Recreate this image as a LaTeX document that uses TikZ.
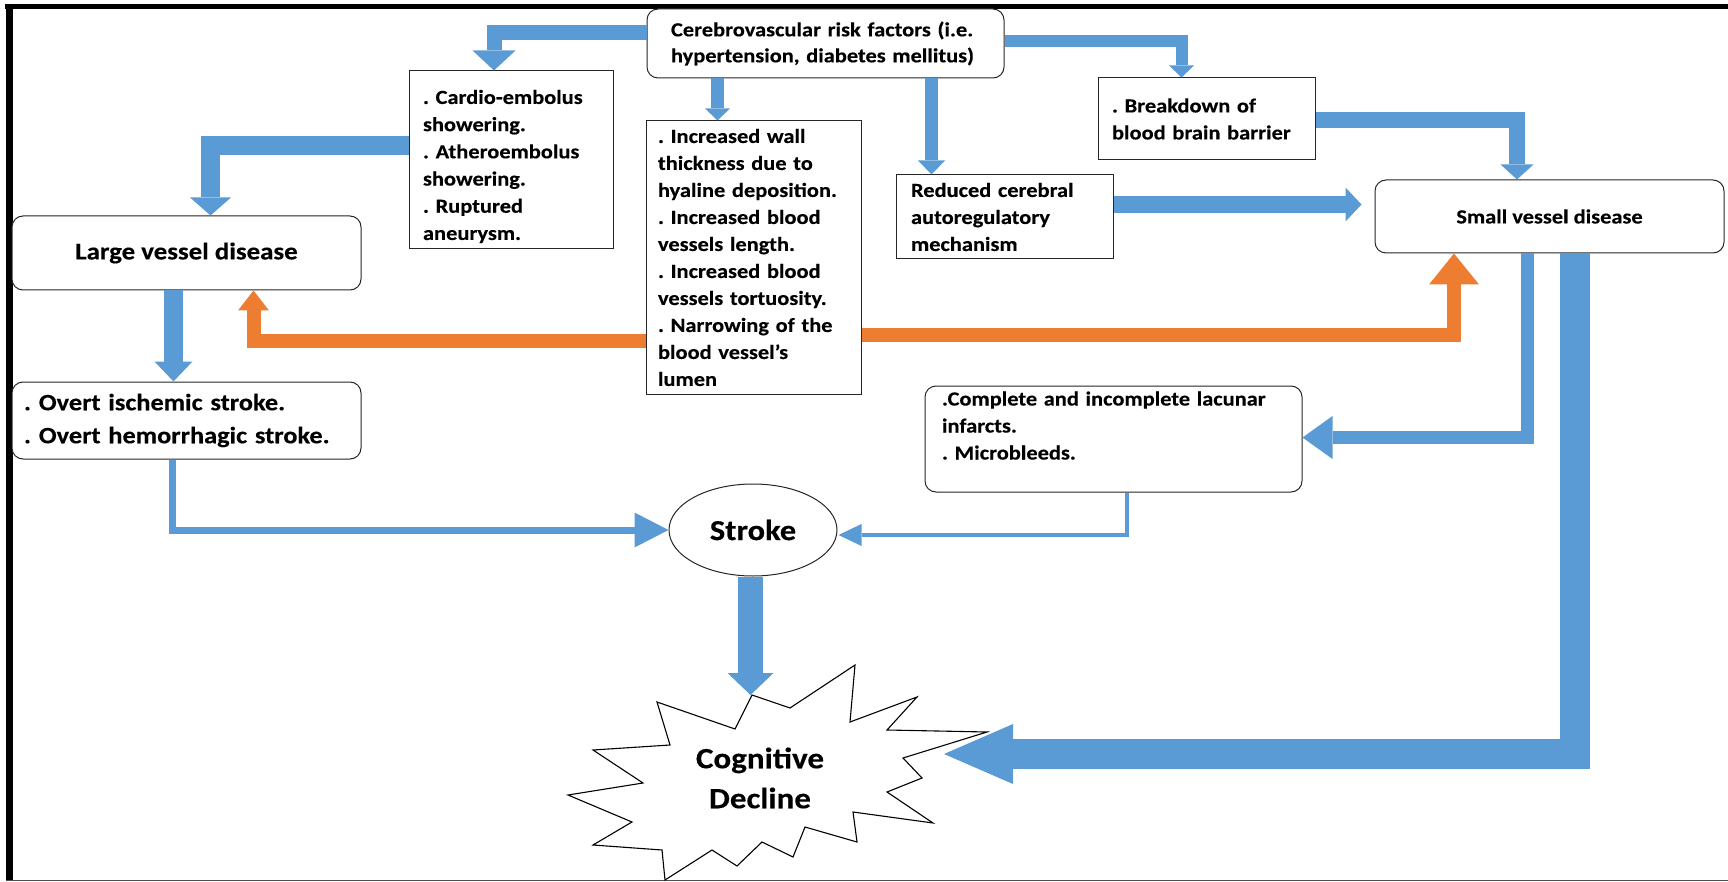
\documentclass[tikz,border=0pt]{standalone}
\usepackage{fontspec}
\usetikzlibrary{arrows.meta,shapes.geometric}
\newfontfamily\cb{Carlito}[FakeStretch=1.12,FakeBold=0.3]
\frenchspacing
\definecolor{myblue}{RGB}{91,155,213}
\definecolor{myorange}{RGB}{237,125,49}
\tikzset{
  box/.style={draw=black!85, line width=1pt, fill=white, align=left, inner ysep=0pt,
    font=\cb\bfseries\frenchspacing\fontsize{20}{27}\selectfont},
  rbox/.style={box, rounded corners=11pt},
  blu/.style={draw=myblue, line width=#1, line join=miter},
  orng/.style={draw=myorange, line width=#1, line join=miter},
  ahead/.style 2 args={-{Triangle[width=#1pt,length=#2pt,line width=0pt]}}
}
\begin{document}
\begin{tikzpicture}[x=1pt,y=-1pt]
\useasboundingbox (0,0) rectangle (1728,882);
% frame
\fill[black] (5,4) rectangle (1728,9);
\fill[black] (6,4) rectangle (13,880);
\draw[black!70, line width=1.5pt] (6,880.5) -- (1728,880.5);

% starburst
\draw[line width=1.1pt, fill=white, line join=miter] (752,695) -- (790,708) -- (855,665) -- (850,722) -- (917,697) -- (887,730) -- (987,732) -- (903,758) -- (922,778) -- (887,792) -- (933,823) -- (853,812) -- (857,842) -- (805,827) -- (793,857) -- (762,842) -- (737,866) -- (712,850) -- (665,880) -- (662,850) -- (593,845) -- (632,822) -- (568,795) -- (643,783) -- (593,750) -- (670,745) -- (657,702) -- (735,729) -- cycle;
\node[font=\cb\bfseries\fontsize{29.5}{40}\selectfont, align=center] (cog) at (760,778) {Cognitive\\Decline};
\coordinate (cogT) at (750.5,695);
\coordinate (cogR) at (944,754);

% nodes
\node[rbox, minimum width=357pt, minimum height=69pt, text width=309pt, inner xsep=24pt,
  font=\cb\bfseries\frenchspacing\fontsize{20}{26}\selectfont] (top) at (825.5,43.5)
  {Cerebrovascular risk factors (i.e.\\hypertension, diabetes mellitus)};
\node[box, minimum width=204pt, minimum height=178pt, text width=176pt, inner xsep=14pt,
  font=\cb\bfseries\frenchspacing\fontsize{20}{27.2}\selectfont] (cardio) at (511,160)
  {\rule{0pt}{27pt}. Cardio-embolus\\showering.\\. Atheroembolus\\showering.\\. Ruptured\\aneurysm.};
\node[box, minimum width=215pt, minimum height=273pt, text width=191pt, inner xsep=12pt] (mid) at (753.5,257.5)
  {. Increased wall\\thickness due to\\hyaline deposition.\\. Increased blood\\vessels length.\\. Increased blood\\vessels tortuosity.\\. Narrowing of the\\blood vessel’s\\lumen};
\node[box, minimum width=217pt, minimum height=82pt, text width=189pt, inner xsep=14pt] (brk) at (1206.5,119)
  {. Breakdown of\\blood brain barrier};
\node[box, minimum width=217pt, minimum height=84pt, text width=187pt, inner xsep=15pt] (red) at (1004.5,217)
  {Reduced cerebral\\autoregulatory\\mechanism};
\node[rbox, minimum width=349pt, minimum height=73pt, align=center] (small) at (1549.5,216.5)
  {Small vessel disease};
\node[rbox, minimum width=349pt, minimum height=74pt, align=center,
  font=\cb\bfseries\fontsize{24}{27}\selectfont] (large) at (186.5,253)
  {Large vessel disease};
\node[rbox, minimum width=349pt, minimum height=77pt, text width=325pt, inner xsep=12pt,
  font=\cb\bfseries\frenchspacing\fontsize{23.5}{33}\selectfont] (overt) at (186.5,420.5)
  {. Overt ischemic stroke.\\. Overt hemorrhagic stroke.};
\node[rbox, minimum width=377pt, minimum height=106pt, text width=343pt, inner xsep=17pt] (complete) at (1113.5,439)
  {.Complete and incomplete lacunar\\infarcts.\\. Microbleeds.\\\mbox{}};
\node[draw=black!85, line width=1pt, fill=white, ellipse, minimum width=168pt, minimum height=92pt, inner sep=0pt,
  font=\cb\bfseries\fontsize{29}{34}\selectfont] (stroke) at (753,530) {Stroke};

% blue arrows
\draw[blu=15pt, ahead={43}{20}] ([yshift=11pt]top.west) -| ([xshift=-17pt]cardio.north);
\draw[blu=13pt, ahead={25}{12}] ([xshift=-108pt]top.south) -- ([xshift=-36pt]mid.north);
\draw[blu=13pt, ahead={27}{14}] ([xshift=106pt]top.south) -- ([xshift=-73pt]red.north);
\draw[blu=12pt, ahead={25}{12}] ([yshift=2.5pt]top.east) -| ([xshift=-25pt]brk.north);
\draw[blu=19pt, ahead={41}{18}] ([yshift=14pt]cardio.west) -| ([xshift=24pt]large.north);
\draw[blu=19pt, ahead={38}{20}] ([xshift=-13pt]large.south) -- ([xshift=-13pt]overt.north);
\draw[blu=16pt, ahead={33}{15}] ([yshift=-1pt]brk.east) -| ([xshift=-32.5pt]small.north);
\draw[blu=17pt, ahead={34}{16}] ([yshift=12.5pt]red.east) -- ([xshift=-13pt,yshift=12pt]small.west);
\draw[blu=13pt, ahead={43}{30}] ([xshift=-22.5pt]small.south) |- ([yshift=1.5pt]complete.east);
\draw[blu=30pt, ahead={60}{69}] ([xshift=25pt]small.south) |- (cogR);
\draw[blu=7pt, ahead={35}{34}] ([xshift=-14.5pt]overt.south) |- (stroke.west);
\draw[blu=4pt, ahead={22}{23}] ([xshift=13pt]complete.south) |- ([xshift=1pt,yshift=-5pt]stroke.east);
\draw[blu=25pt, ahead={46}{22}] ([xshift=-2.5pt]stroke.south) -- (cogT);

% orange arrows
\draw[orng=14pt, ahead={31}{20}] ([yshift=-83.5pt]mid.west) -| ([xshift=67pt]large.south);
\draw[orng=14pt, ahead={50}{31}] ([yshift=-77.5pt]mid.east) -| ([xshift=-95.5pt]small.south);
\end{tikzpicture}
\end{document}
